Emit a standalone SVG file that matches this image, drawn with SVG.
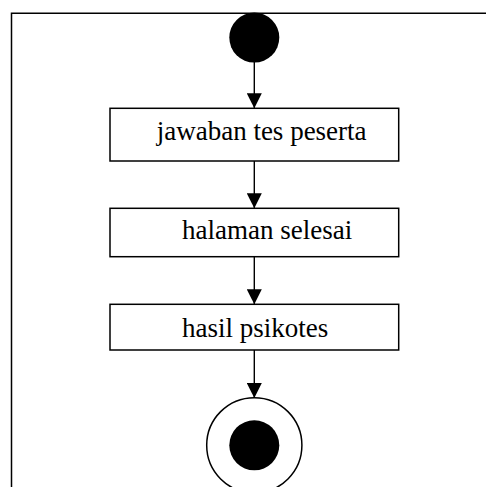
<svg xmlns="http://www.w3.org/2000/svg" width="486" height="487" viewBox="0 0 486 487">
  <style>
    .frame { fill: none; stroke: #000; stroke-width: 1.5; }
    .box { fill: #fff; stroke: #000; stroke-width: 1.5; }
    .label { font-family: "Liberation Serif", "Times New Roman", serif; font-size: 27px; fill: #000; }
    .edge { fill: none; stroke: #000; stroke-width: 1.4; }
    .solid { fill: #000; }
  </style>
  <defs>
    <marker id="arrow" viewBox="0 0 16 15" refX="15" refY="7.5" markerWidth="16" markerHeight="15" markerUnits="userSpaceOnUse" orient="auto">
      <path d="M0,0 L15,7.5 L0,15 Z" fill="#000"/>
    </marker>
  </defs>

  <rect width="486" height="487" fill="#fff"/>

  <!-- open frame: top and left edges -->
  <path class="frame" d="M11.5,500 L11.5,13.3 L500,13.3"/>

  <g id="connectors">
    <line class="edge" x1="254.3" y1="62" x2="254.3" y2="108.3" marker-end="url(#arrow)"/>
    <line class="edge" x1="254.3" y1="161" x2="254.3" y2="208.3" marker-end="url(#arrow)"/>
    <line class="edge" x1="254.3" y1="256.7" x2="254.3" y2="304.3" marker-end="url(#arrow)"/>
    <line class="edge" x1="254.3" y1="350" x2="254.3" y2="398" marker-end="url(#arrow)"/>
  </g>

  <g id="start">
    <circle class="solid" cx="254.3" cy="37.6" r="25"/>
  </g>

  <g id="jawaban-tes-peserta">
    <rect class="box" x="110" y="108.3" width="288.7" height="52.7"/>
    <text class="label" x="156.7" y="140">jawaban tes peserta</text>
  </g>

  <g id="halaman-selesai">
    <rect class="box" x="110" y="208.3" width="288.7" height="48.4"/>
    <text class="label" x="182" y="239">halaman selesai</text>
  </g>

  <g id="hasil-psikotes">
    <rect class="box" x="110" y="304.3" width="288.7" height="45.7"/>
    <text class="label" x="182" y="336.7">hasil psikotes</text>
  </g>

  <g id="end">
    <circle cx="254.3" cy="445.3" r="47.6" fill="#fff" stroke="#000" stroke-width="1.5"/>
    <circle class="solid" cx="254.3" cy="445.3" r="25"/>
  </g>
</svg>
